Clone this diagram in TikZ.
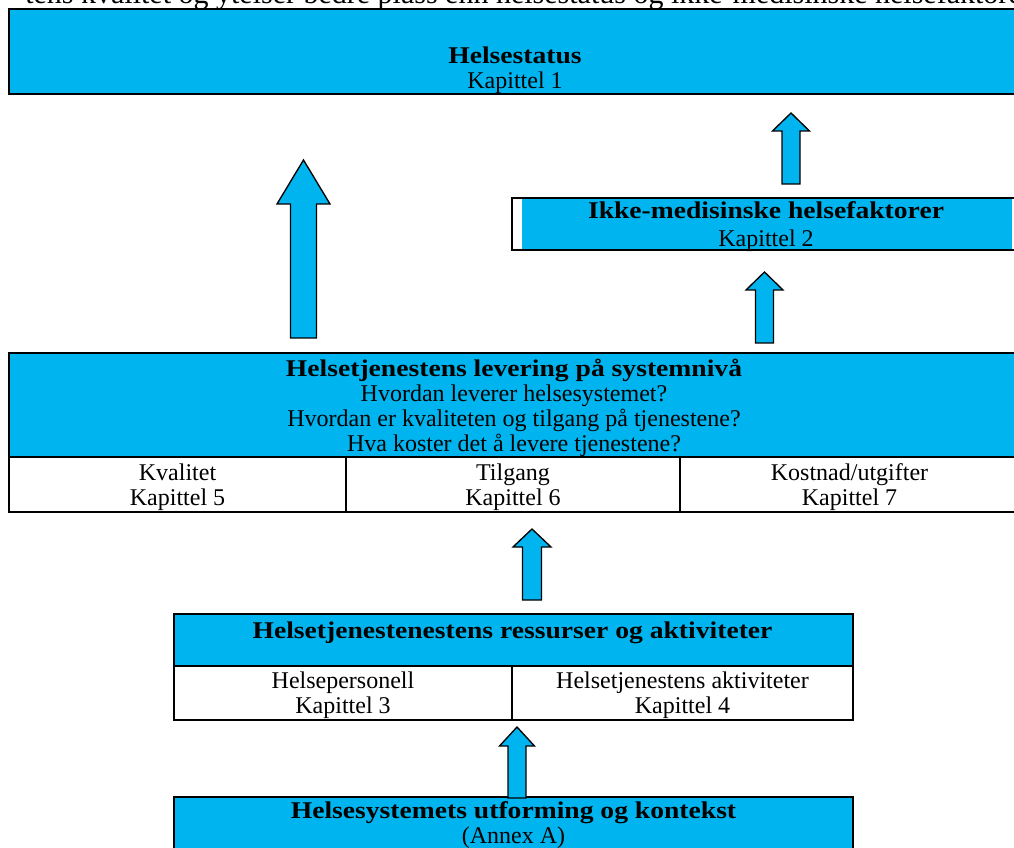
\documentclass[tikz,border=0pt]{standalone}
\usepackage{fontspec}
\setmainfont{Liberation Serif}
\newfontfamily\headfont[FakeStretch=1.15]{Liberation Serif}
\usepackage{tikz}
\usetikzlibrary{positioning,fit}
\definecolor{boxblue}{RGB}{0,181,239}

\newcommand{\hd}[1]{{\headfont\bfseries #1}}
% block arrow: centre x, bottom y, tip y, half shaft, half head, head length
\newcommand{\blockarrow}[6]{%
  \draw[arrowbody] (#1-#4,#2) -- (#1-#4,#3+#6) -- (#1-#5,#3+#6) -- (#1,#3)
    -- (#1+#5,#3+#6) -- (#1+#4,#3+#6) -- (#1+#4,#2) -- cycle;}

\begin{document}
\begin{tikzpicture}[x=0.75pt, y=-0.75pt,
  box/.style={draw, line width=2.2pt, fill=boxblue, inner sep=0pt},
  cell/.style={draw, line width=2.2pt, fill=white, inner sep=0pt},
  txt/.style={align=center, inner sep=0pt, yshift=-2pt, font=\fontsize{18}{18.75}\selectfont},
  arrowbody/.style={draw, line width=1pt, fill=boxblue, line join=miter}]
  \useasboundingbox (0,0) rectangle (1014,848);
  \clip (0,0) rectangle (1014,848);

  % caption line, cut off at the top
  \node[anchor=base west, inner sep=0pt, font=\fontsize{22.5}{25}\selectfont] (caption) at (25,4)
    {tens kvalitet og ytelser bedre plass enn helsestatus og ikke-medisinske helsefaktorer};

  % helsestatus
  \node[box, fit={(9,9) (1021,94)}] (status) {};
  \node[txt] (statustxt) at (515,68) {\hd{Helsestatus}\\Kapittel 1};

  % ikke-medisinske faktorer
  \fill[boxblue] (522,199) rectangle (1012,249);
  \node[draw, line width=2.2pt, inner sep=0pt, fit={(512,198) (1020,250)}] (faktor) {};
  \node[txt] (faktortxt) at (faktor.center) {\hd{Ikke-medisinske helsefaktorer}\\[2pt]Kapittel 2};

  % levering
  \node[box, fit={(9,353) (1019,457)}] (levering) {};
  \node[txt] (leveringtxt) at (levering.center) {\hd{Helsetjenestens levering på systemnivå}\\
    Hvordan leverer helsesystemet?\\
    Hvordan er kvaliteten og tilgang på tjenestene?\\
    Hva koster det å levere tjenestene?};
  \node[cell, fit={(9,457) (346,512)}] (kvalitet) {};
  \node[cell, fit={(346,457) (680,512)}] (tilgang) {};
  \node[cell, fit={(680,457) (1019,512)}] (kostnad) {};
  \node[txt] at (kvalitet.center) {Kvalitet\\Kapittel 5};
  \node[txt] at (tilgang.center) {Tilgang\\Kapittel 6};
  \node[txt] at (kostnad.center) {Kostnad/utgifter\\Kapittel 7};

  % ressurser og aktiviteter
  \node[box, fit={(174,614) (853,666)}] (ressurser) {};
  \node[txt] (ressursertxt) at (512.5,630) {\hd{Helsetjenestenestens ressurser og aktiviteter}};
  \node[cell, fit={(174,666) (512,720)}] (personell) {};
  \node[cell, fit={(512,666) (853,720)}] (aktivitet) {};
  \node[txt] at (personell.center) {Helsepersonell\\Kapittel 3};
  \node[txt] at (aktivitet.center) {Helsetjenestens aktiviteter\\Kapittel 4};

  % utforming og kontekst
  \node[box, fit={(174,797) (853,870)}] (kontekst) {};
  \node[txt] (kontekstxt) at (513.5,822) {\hd{Helsesystemets utforming og kontekst}\\(Annex A)};

  % arrows
  \blockarrow{791}{184}{113}{9}{18.5}{18}
  \blockarrow{303.5}{338}{160}{13}{26.5}{44}
  \blockarrow{764.5}{343}{272}{9}{18.5}{18}
  \blockarrow{532}{600}{529}{9.5}{19}{18}
  \blockarrow{517}{798}{727}{9}{17.5}{19}
\end{tikzpicture}
\end{document}
